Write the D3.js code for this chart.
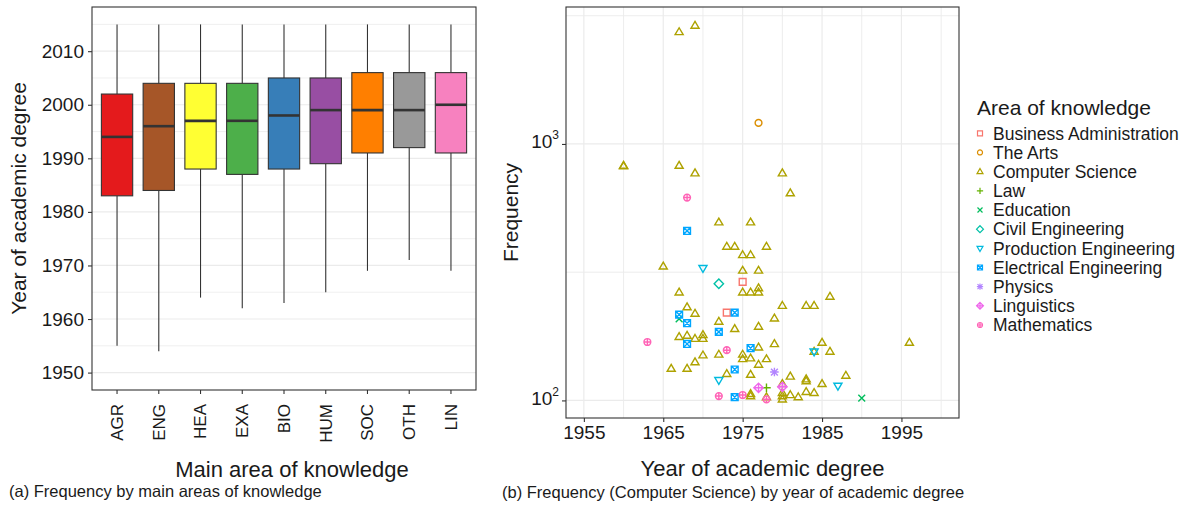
<!DOCTYPE html>
<html>
<head>
<meta charset="utf-8">
<script src="https://cdn.jsdelivr.net/npm/d3@7"></script>
<style>
  body { margin: 0; background: #fff; }
  text { font-family: "Liberation Sans", Arial, sans-serif; fill: #1a1a1a; }
</style>
</head>
<body>
<script>
// ---- data: boxplot (a) ----
var boxCategories = ["AGR", "ENG", "HEA", "EXA", "BIO", "HUM", "SOC", "OTH", "LIN"];
var boxLow    = [1955, 1954, 1964, 1962, 1963, 1965, 1969, 1971, 1969];
var boxQ1     = [1983, 1984, 1988, 1987, 1988, 1989, 1991, 1992, 1991];
var boxMedian = [1994, 1996, 1997, 1997, 1998, 1999, 1999, 1999, 2000];
var boxQ3     = [2002, 2004, 2004, 2004, 2005, 2005, 2006, 2006, 2006];
var boxHigh   = [2015, 2015, 2015, 2015, 2015, 2015, 2015, 2015, 2015];
var boxYearTicks = [1950, 1960, 1970, 1980, 1990, 2000, 2010];

// ---- data: scatter (b), [year, frequency] ----
var areaNames = ["Business Administration", "The Arts", "Computer Science", "Law", "Education",
    "Civil Engineering", "Production Engineering", "Electrical Engineering", "Physics",
    "Linguistics", "Mathematics"];

var businessAdministration = [[1975, 290], [1973, 220]];
var theArts = [[1977, 1208]];
var computerScience = [
    [1960, 823], [1960, 820],
    [1965, 333], [1966, 133],
    [1967, 2732], [1967, 823], [1967, 264], [1967, 177],
    [1968, 231], [1968, 179], [1968, 133],
    [1969, 2894], [1969, 769], [1969, 218], [1969, 174], [1969, 141],
    [1970, 180], [1970, 174], [1970, 150],
    [1972, 495], [1972, 203], [1972, 151],
    [1973, 398], [1973, 127],
    [1974, 398], [1974, 190],
    [1975, 369], [1975, 321], [1975, 264], [1975, 151], [1975, 145],
    [1976, 495], [1976, 369], [1976, 264], [1976, 146], [1976, 126], [1976, 106], [1976, 104],
    [1977, 321], [1977, 274], [1977, 264], [1977, 194], [1977, 161], [1977, 138],
    [1978, 398], [1978, 145], [1978, 103],
    [1979, 209], [1979, 166],
    [1980, 769], [1980, 234], [1980, 116], [1980, 107], [1980, 104], [1980, 101],
    [1981, 643], [1981, 124], [1981, 105],
    [1982, 103],
    [1983, 234], [1983, 121], [1983, 119], [1983, 108],
    [1984, 234], [1984, 155], [1984, 107],
    [1985, 168], [1985, 116],
    [1986, 254], [1986, 155],
    [1988, 125],
    [1996, 168]
];
var law = [[1978, 112]];
var education = [[1967, 208], [1990, 102]];
var civilEngineering = [[1972, 285]];
var productionEngineering = [[1970, 328], [1972, 120], [1984, 155], [1987, 114]];
var electricalEngineering = [[1968, 458], [1967, 216], [1968, 200], [1974, 220], [1972, 185],
    [1968, 166], [1974, 132], [1974, 103], [1976, 160]];
var physics = [[1979, 129]];
var linguistics = [[1977, 112], [1980, 113]];
var mathematics = [[1968, 618], [1963, 169], [1973, 157], [1972, 104], [1975, 105], [1978, 101]];

var scatterYearTicks = [1955, 1965, 1975, 1985, 1995];
var scatterYearMinor = [1960, 1970, 1980, 1990, 2000];
var freqTicks = [100, 1000];
var freqMinor = [Math.pow(10, 2.5), Math.pow(10, 3.5)];

var areaPoints = [businessAdministration, theArts, computerScience, law, education,
    civilEngineering, productionEngineering, electricalEngineering, physics,
    linguistics, mathematics];

var boxColors = ["#E41A1C", "#A65628", "#FFFF33", "#4DAF4A", "#377EB8", "#984EA3",
    "#FF7F00", "#999999", "#F781BF"];
var areaColors = ["#F8766D", "#DB8E00", "#AEA200", "#64B200", "#00BD5C", "#00C1A7",
    "#00BADE", "#00A6FF", "#B385FF", "#EF67EB", "#FF63B6"];

var svgWidth = 1192;
var svgHeight = 507;
var gridColor = "#ebebeb";
var axisColor = "#333333";

var svg = d3.select("body")
    .append("svg")
    .attr("width", svgWidth)
    .attr("height", svgHeight);

// ================= panel (a) =================
var leftPanel = {x0: 92, x1: 476, y0: 7, y1: 390};

var xBand = d3.scaleBand()
    .domain(boxCategories)
    .range([leftPanel.x0, leftPanel.x1])
    .paddingInner(0)
    .paddingOuter(0.1);

var yYear = d3.scaleLinear()
    .domain([1946.75, 2018.25])
    .range([leftPanel.y1, leftPanel.y0]);

var gA = svg.append("g");

// grid: minor at the midpoints, then major
var minorA = d3.range(1945, 2020, 10);
gA.selectAll(".minorA")
    .data(minorA.filter(d => d > 1946.75 && d < 2018.25))
    .enter().append("line")
    .attr("x1", leftPanel.x0).attr("x2", leftPanel.x1)
    .attr("y1", d => yYear(d)).attr("y2", d => yYear(d))
    .attr("stroke", gridColor).attr("stroke-width", 0.8);

gA.selectAll(".majorA")
    .data(boxYearTicks)
    .enter().append("line")
    .attr("x1", leftPanel.x0).attr("x2", leftPanel.x1)
    .attr("y1", d => yYear(d)).attr("y2", d => yYear(d))
    .attr("stroke", gridColor).attr("stroke-width", 1.2);

var boxW = xBand.bandwidth() * 0.75;
var boxes = gA.selectAll(".box")
    .data(boxCategories)
    .enter().append("g")
    .attr("transform", d => `translate(${xBand(d) + xBand.bandwidth() / 2}, 0)`);

boxes.append("line")
    .attr("y1", (d, i) => yYear(boxLow[i]))
    .attr("y2", (d, i) => yYear(boxQ1[i]))
    .attr("stroke", axisColor).attr("stroke-width", 1.1);

boxes.append("line")
    .attr("y1", (d, i) => yYear(boxQ3[i]))
    .attr("y2", (d, i) => yYear(boxHigh[i]))
    .attr("stroke", axisColor).attr("stroke-width", 1.1);

boxes.append("rect")
    .attr("x", -boxW / 2)
    .attr("width", boxW)
    .attr("y", (d, i) => yYear(boxQ3[i]))
    .attr("height", (d, i) => yYear(boxQ1[i]) - yYear(boxQ3[i]))
    .attr("fill", (d, i) => boxColors[i])
    .attr("stroke", axisColor).attr("stroke-width", 1.1);

boxes.append("line")
    .attr("x1", -boxW / 2).attr("x2", boxW / 2)
    .attr("y1", (d, i) => yYear(boxMedian[i]))
    .attr("y2", (d, i) => yYear(boxMedian[i]))
    .attr("stroke", axisColor).attr("stroke-width", 2.6);

gA.append("rect")
    .attr("x", leftPanel.x0).attr("y", leftPanel.y0)
    .attr("width", leftPanel.x1 - leftPanel.x0)
    .attr("height", leftPanel.y1 - leftPanel.y0)
    .attr("fill", "none").attr("stroke", axisColor).attr("stroke-width", 1.1);

// y axis (a)
var leftAxisA = gA.append("g")
    .attr("transform", `translate(${leftPanel.x0}, 0)`)
    .call(d3.axisLeft(yYear).tickValues(boxYearTicks).tickFormat(d3.format("d")).tickSize(4).tickPadding(4));
leftAxisA.select(".domain").remove();
leftAxisA.selectAll("line").attr("stroke", axisColor).attr("stroke-width", 1.1);
leftAxisA.selectAll("text")
    .style("font-family", "Liberation Sans, Arial, sans-serif")
    .style("font-size", "19px").attr("fill", "#1a1a1a");

// x axis (a)
var bottomAxisA = gA.append("g")
    .attr("transform", `translate(0, ${leftPanel.y1})`)
    .call(d3.axisBottom(xBand).tickSize(4).tickPadding(0));
bottomAxisA.select(".domain").remove();
bottomAxisA.selectAll("line").attr("stroke", axisColor).attr("stroke-width", 1.1);
bottomAxisA.selectAll("text")
    .style("font-family", "Liberation Sans, Arial, sans-serif")
    .style("font-size", "17px").attr("fill", "#1a1a1a")
    .attr("text-anchor", "end")
    .attr("transform", "translate(0, 14) rotate(-90)")
    .attr("x", 0).attr("y", 0).attr("dy", "0.35em");

gA.append("text")
    .attr("transform", `translate(26, ${(leftPanel.y0 + leftPanel.y1) / 2}) rotate(-90)`)
    .attr("text-anchor", "middle")
    .style("font-size", "21px")
    .text("Year of academic degree");

gA.append("text")
    .attr("x", 292).attr("y", 477)
    .attr("text-anchor", "middle")
    .style("font-size", "22px")
    .text("Main area of knowledge");

gA.append("text")
    .attr("x", 9).attr("y", 497)
    .style("font-size", "16.5px")
    .text("(a) Frequency by main areas of knowledge");

// ================= panel (b) =================
var rightPanel = {x0: 566, x1: 959, y0: 7, y1: 418};

var xYear = d3.scaleLinear()
    .domain([1952.75, 2002.25])
    .range([rightPanel.x0, rightPanel.x1]);

var yFreq = d3.scaleLog()
    .domain([85.4, 3420])
    .range([rightPanel.y1, rightPanel.y0]);

var gB = svg.append("g");

gB.selectAll(".vminor")
    .data(scatterYearMinor.filter(d => xYear(d) < rightPanel.x1))
    .enter().append("line")
    .attr("x1", d => xYear(d)).attr("x2", d => xYear(d))
    .attr("y1", rightPanel.y0).attr("y2", rightPanel.y1)
    .attr("stroke", gridColor).attr("stroke-width", 0.9);
gB.selectAll(".hminor")
    .data(freqMinor)
    .enter().append("line")
    .attr("x1", rightPanel.x0).attr("x2", rightPanel.x1)
    .attr("y1", d => yFreq(d)).attr("y2", d => yFreq(d))
    .attr("stroke", gridColor).attr("stroke-width", 0.9);
gB.selectAll(".vmajor")
    .data(scatterYearTicks)
    .enter().append("line")
    .attr("x1", d => xYear(d)).attr("x2", d => xYear(d))
    .attr("y1", rightPanel.y0).attr("y2", rightPanel.y1)
    .attr("stroke", gridColor).attr("stroke-width", 1.2);
gB.selectAll(".hmajor")
    .data(freqTicks)
    .enter().append("line")
    .attr("x1", rightPanel.x0).attr("x2", rightPanel.x1)
    .attr("y1", d => yFreq(d)).attr("y2", d => yFreq(d))
    .attr("stroke", gridColor).attr("stroke-width", 1.2);

// R point shapes 0..10 as paths
function shapePath(k, r) {
    var p = d3.path();
    var t = r * 1.25;
    switch (k) {
        case 0: p.rect(-r, -r, 2 * r, 2 * r); break;
        case 1: p.arc(0, 0, r, 0, 2 * Math.PI); p.closePath(); break;
        case 2:
            p.moveTo(0, -t); p.lineTo(t * 0.95, t * 0.62); p.lineTo(-t * 0.95, t * 0.62); p.closePath(); break;
        case 3:
            p.moveTo(-t, 0); p.lineTo(t, 0); p.moveTo(0, -t); p.lineTo(0, t); break;
        case 4:
            p.moveTo(-r, -r); p.lineTo(r, r); p.moveTo(-r, r); p.lineTo(r, -r); break;
        case 5:
            p.moveTo(0, -t * 1.1); p.lineTo(t * 1.1, 0); p.lineTo(0, t * 1.1); p.lineTo(-t * 1.1, 0); p.closePath(); break;
        case 6:
            p.moveTo(0, t); p.lineTo(t * 0.95, -t * 0.62); p.lineTo(-t * 0.95, -t * 0.62); p.closePath(); break;
        case 7:
            p.rect(-r, -r, 2 * r, 2 * r);
            p.moveTo(-r, -r); p.lineTo(r, r); p.moveTo(-r, r); p.lineTo(r, -r); break;
        case 8:
            p.moveTo(-t, 0); p.lineTo(t, 0); p.moveTo(0, -t); p.lineTo(0, t);
            p.moveTo(-r, -r); p.lineTo(r, r); p.moveTo(-r, r); p.lineTo(r, -r); break;
        case 9:
            p.moveTo(0, -t * 1.1); p.lineTo(t * 1.1, 0); p.lineTo(0, t * 1.1); p.lineTo(-t * 1.1, 0); p.closePath();
            p.moveTo(-t * 1.1, 0); p.lineTo(t * 1.1, 0); p.moveTo(0, -t * 1.1); p.lineTo(0, t * 1.1); break;
        case 10:
            p.arc(0, 0, r, 0, 2 * Math.PI); p.closePath();
            p.moveTo(-r, 0); p.lineTo(r, 0); p.moveTo(0, -r); p.lineTo(0, r); break;
    }
    return p.toString();
}

var pointsG = gB.append("g");
areaPoints.forEach(function(pts, k) {
    pointsG.selectAll(".pt" + k)
        .data(pts)
        .enter().append("path")
        .attr("transform", d => `translate(${xYear(d[0])}, ${yFreq(d[1])})`)
        .attr("d", shapePath(k, 3.4))
        .attr("fill", "none")
        .attr("stroke", areaColors[k])
        .attr("stroke-width", 1.4);
});

gB.append("rect")
    .attr("x", rightPanel.x0).attr("y", rightPanel.y0)
    .attr("width", rightPanel.x1 - rightPanel.x0)
    .attr("height", rightPanel.y1 - rightPanel.y0)
    .attr("fill", "none").attr("stroke", axisColor).attr("stroke-width", 1.1);

var bottomAxisB = gB.append("g")
    .attr("transform", `translate(0, ${rightPanel.y1})`)
    .call(d3.axisBottom(xYear).tickValues(scatterYearTicks).tickFormat(d3.format("d")).tickSize(4).tickPadding(4));
bottomAxisB.select(".domain").remove();
bottomAxisB.selectAll("line").attr("stroke", axisColor).attr("stroke-width", 1.1);
bottomAxisB.selectAll("text")
    .style("font-family", "Liberation Sans, Arial, sans-serif")
    .style("font-size", "19px").attr("fill", "#1a1a1a");

var leftAxisB = gB.append("g")
    .attr("transform", `translate(${rightPanel.x0}, 0)`)
    .call(d3.axisLeft(yFreq).tickValues(freqTicks).tickFormat("").tickSize(4));
leftAxisB.select(".domain").remove();
leftAxisB.selectAll("line").attr("stroke", axisColor).attr("stroke-width", 1.1);
leftAxisB.selectAll(".tick").each(function(d) {
    var t = d3.select(this).append("text")
        .attr("x", -7).attr("dy", "0.38em")
        .attr("text-anchor", "end")
        .style("font-family", "Liberation Sans, Arial, sans-serif")
        .attr("fill", "#1a1a1a");
    t.append("tspan").style("font-size", "19px").text("10");
    t.append("tspan").style("font-size", "12px").attr("dy", "-0.75em")
        .text(Math.round(Math.log10(d)));
});

gB.append("text")
    .attr("transform", `translate(518, ${(rightPanel.y0 + rightPanel.y1) / 2}) rotate(-90)`)
    .attr("text-anchor", "middle")
    .style("font-size", "21px")
    .text("Frequency");

gB.append("text")
    .attr("x", (rightPanel.x0 + rightPanel.x1) / 2).attr("y", 476)
    .attr("text-anchor", "middle")
    .style("font-size", "22px")
    .text("Year of academic degree");

gB.append("text")
    .attr("x", 502).attr("y", 498)
    .style("font-size", "16.5px")
    .text("(b) Frequency (Computer Science) by year of academic degree");

// legend
var legend = svg.append("g").attr("transform", "translate(977, 0)");
legend.append("text")
    .attr("x", 0).attr("y", 115)
    .style("font-size", "21px")
    .text("Area of knowledge");

var legendRows = legend.selectAll(".lg")
    .data(areaNames)
    .enter().append("g")
    .attr("transform", (d, i) => `translate(0, ${133.3 + i * 19.17})`);
legendRows.append("path")
    .attr("transform", "translate(3, 0)")
    .attr("d", (d, i) => shapePath(i, 2.5))
    .attr("fill", "none")
    .attr("stroke", (d, i) => areaColors[i])
    .attr("stroke-width", 1.2);
legendRows.append("text")
    .attr("x", 16).attr("dy", "0.36em")
    .style("font-size", "17.5px")
    .text(d => d);
</script>
</body>
</html>
